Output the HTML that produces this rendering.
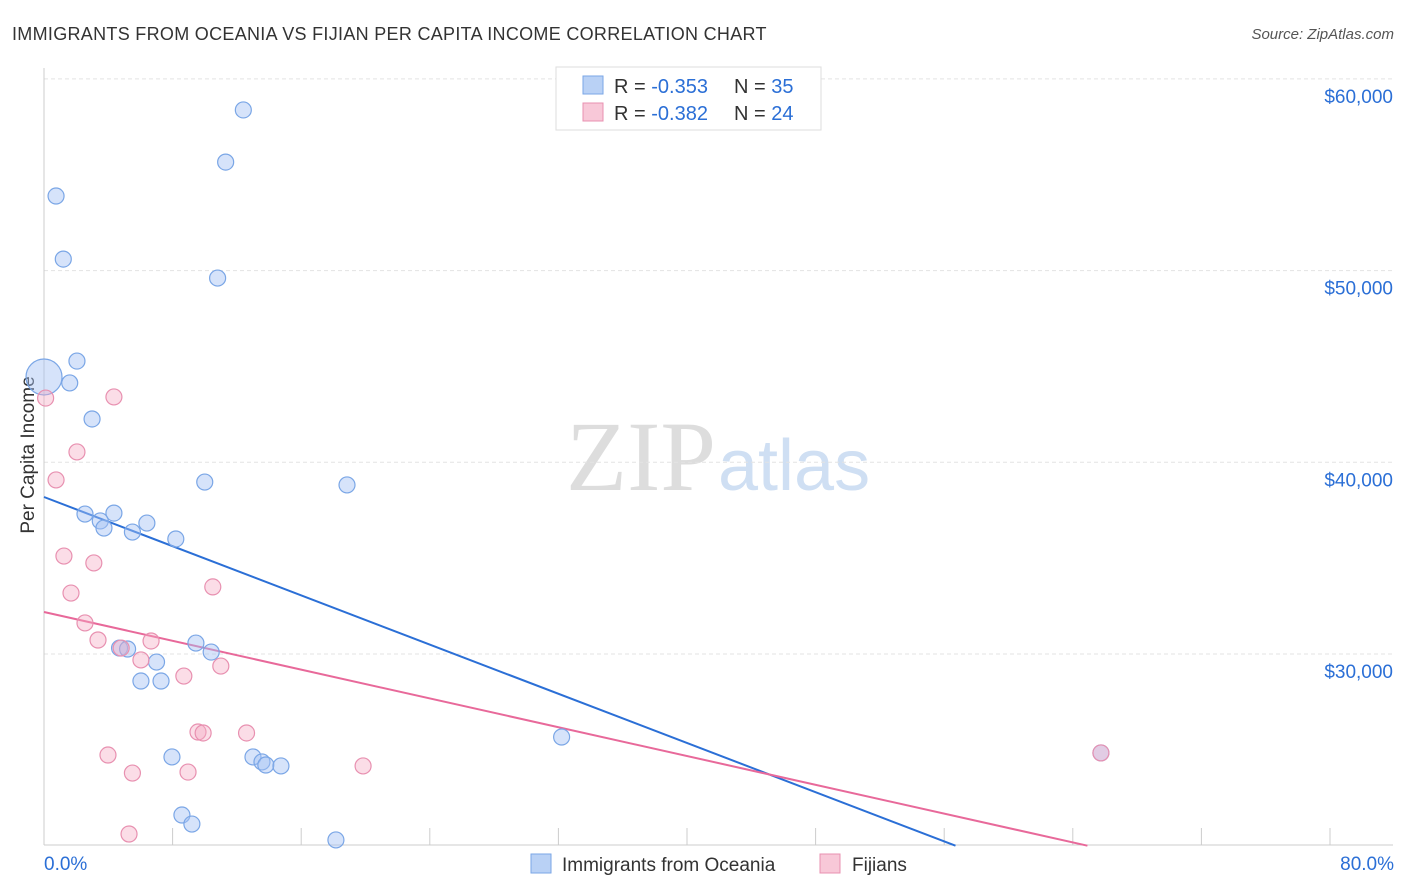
<!DOCTYPE html>
<html><head><meta charset="utf-8"><style>
body{margin:0;background:#fff;font-family:"Liberation Sans",sans-serif;}
#wrap{position:relative;width:1406px;height:892px;overflow:hidden;}
</style></head><body>
<div id="wrap">
<svg id="svg" width="1406" height="892" xmlns="http://www.w3.org/2000/svg">
<text x="12" y="40" font-size="18" fill="#333" letter-spacing="0.3">IMMIGRANTS FROM OCEANIA VS FIJIAN PER CAPITA INCOME CORRELATION CHART</text>
<text x="1394" y="39" font-size="15" fill="#555" font-style="italic" text-anchor="end">Source: ZipAtlas.com</text>
<text x="34" y="455" font-size="19" fill="#333" text-anchor="middle" transform="rotate(-90 34 455)">Per Capita Income</text>
<text x="716" y="490" font-size="100" fill="#ddd" text-anchor="end" font-family="Liberation Serif,serif">ZIP</text>
<text x="718" y="490" font-size="72" fill="#cfdff3">atlas</text>
<g id="grid"></g><g id="axes"></g><g id="lines"></g><g id="pts"></g>
<g>
<rect x="556" y="67" width="265" height="63" fill="#fff" stroke="#ddd"/>
<rect x="583" y="76" width="20" height="18" fill="#b9d1f5" stroke="#7aa6e6"/>
<text x="614" y="93" font-size="20" fill="#333">R = <tspan fill="#2b6fd6">-0.353</tspan></text>
<text x="734" y="93" font-size="20" fill="#333">N = <tspan fill="#2b6fd6">35</tspan></text>
<rect x="583" y="103" width="20" height="18" fill="#f8c8d8" stroke="#e890b0"/>
<text x="614" y="120" font-size="20" fill="#333">R = <tspan fill="#2b6fd6">-0.382</tspan></text>
<text x="734" y="120" font-size="20" fill="#333">N = <tspan fill="#2b6fd6">24</tspan></text>
</g>
<g>
<rect x="531" y="854" width="20" height="19" fill="#b9d1f5" stroke="#7aa6e6"/>
<text x="562" y="871" font-size="19" fill="#333">Immigrants from Oceania</text>
<rect x="820" y="854" width="20" height="19" fill="#f8c8d8" stroke="#e890b0"/>
<text x="852" y="871" font-size="19" fill="#333">Fijians</text>
</g>
</svg>
</div>
<script>
const yTicks=[30000,40000,50000,60000];
const yTickLabels=["$30,000","$40,000","$50,000","$60,000"];
const xTickLabels=["0.0%","80.0%"];
const oceaniaX=[0,0.75,1.2,2.05,1.6,2.99,11.3,12.4,10.8,10.0,18.85,2.55,4.35,3.5,3.73,6.4,5.5,8.2,4.7,5.2,9.45,10.4,7.0,6.03,7.28,7.96,13.0,13.56,13.8,14.74,8.58,9.2,18.16,32.2,65.75];
const oceaniaY=[44450,53890,50600,45280,44140,42260,55660,58380,49610,38970,38820,37300,37350,36940,36570,36830,36360,36000,30310,30260,30570,30100,29580,28590,28590,24630,24630,24370,24210,24160,21600,21130,20300,25670,24840];
const fijiX=[0.1,4.35,2.05,0.75,1.24,3.1,1.68,10.5,2.55,3.36,6.66,4.8,6.03,11.0,8.7,9.58,9.9,12.6,3.98,5.5,8.96,19.85,5.29,65.75];
const fijiY=[43350,43410,40540,39080,35110,34750,33180,33500,31620,30730,30680,30310,29690,29370,28850,25930,25880,25880,24730,23790,23840,24160,20610,24840];
const oceaniaTrend=[38190,-320.8];
const fijiTrend=[32190,-187.8];
const NS="http://www.w3.org/2000/svg";
function X(v){return 44+v*16.075;}
function Y(v){return 654-(v-30000)*0.01917;}
function mk(t,a,parent){const e=document.createElementNS(NS,t);for(const k in a)e.setAttribute(k,a[k]);document.getElementById(parent).appendChild(e);return e;}
yTicks.forEach((t,i)=>{
 const l=mk('line',{x1:44,x2:1393,y1:Y(t),y2:Y(t),stroke:'#e3e3e3','stroke-dasharray':'4,3'},'grid');
 
 
 const tx=mk('text',{x:1393,y:Y(t)+24,'font-size':19,fill:'#2b6fd6','text-anchor':'end'},'axes');
 tx.textContent=yTickLabels[i];
 
 
});
const ax=mk('line',{x1:44,x2:44,y1:68,y2:845,stroke:'#ccc'},'axes');


const bx=mk('line',{x1:44,x2:1393,y1:845,y2:845,stroke:'#ccc'},'axes');


for(let i=0;i<=10;i++){
 const t=mk('line',{x1:X(i*8),x2:X(i*8),y1:828,y2:845,stroke:'#ccc'},'axes');
 
 
}
[[0,'start',44],[80,'end',1394]].forEach((d,i)=>{
 const t=mk('text',{x:d[2],y:870,'font-size':19,fill:'#2b6fd6','text-anchor':d[1]},'axes');
 t.textContent=xTickLabels[i];
 
 
});
function trend(c,col,name){
 const xEnd=(20000-c[0])/c[1];
 const l=mk('line',{x1:X(0),y1:Y(c[0]),x2:X(xEnd),y2:Y(20000),stroke:col,'stroke-width':2},'lines');
 
 
}
trend(oceaniaTrend,'#2b6fd6','trendline-oceania');
trend(fijiTrend,'#e8699a','trendline-fijians');
oceaniaX.forEach((x,i)=>{
 const c=mk('circle',{cx:X(x),cy:Y(oceaniaY[i]),r:i===0?18:8,fill:'rgba(164,194,244,0.45)',stroke:'#7aa6e6','stroke-width':1.2},'pts');
 
 
});
fijiX.forEach((x,i)=>{
 const c=mk('circle',{cx:X(x),cy:Y(fijiY[i]),r:8,fill:'rgba(244,170,196,0.4)',stroke:'#e890b0','stroke-width':1.2},'pts');
 
 
});
</script>
</body></html>
